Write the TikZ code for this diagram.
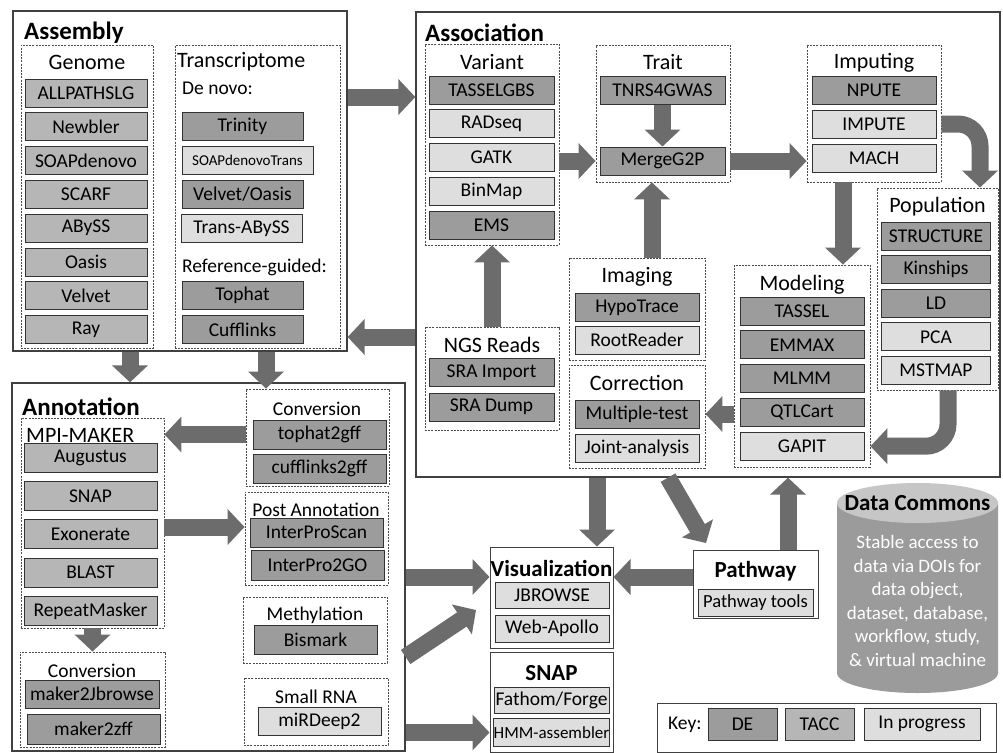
\documentclass[tikz,border=0pt]{standalone}
\usepackage{fontspec}
\setmainfont{Carlito}
\usetikzlibrary{arrows.meta}
\definecolor{deg}{RGB}{156,156,156}
\definecolor{taccg}{RGB}{182,182,182}
\definecolor{progg}{RGB}{222,222,222}
\definecolor{arrg}{RGB}{108,108,108}
\definecolor{cylg}{RGB}{155,155,155}
\definecolor{cyltop}{RGB}{198,198,198}

\begin{document}
\begin{tikzpicture}[x=1pt,y=-1pt,
  frm/.style={draw=black!75,line width=1.3pt,inner sep=0pt},
  sbox/.style={draw=black!75,line width=1pt,inner sep=0pt},
  grp/.style={draw=black!70,line width=0.9pt,dash pattern=on 2pt off 1.2pt,inner sep=0pt},
  ttl/.style={font=\bfseries\fontsize{25}{28}\selectfont,anchor=west,inner sep=0pt},
  sttl/.style={font=\bfseries\fontsize{23}{26}\selectfont,inner sep=0pt},
  hd/.style={font=\fontsize{22}{25}\selectfont,inner sep=0pt},
  shd/.style={font=\fontsize{19.5}{22}\selectfont,inner sep=0pt},
  tool/.style={draw=black!80,line width=1pt,inner sep=0pt,minimum height=28,font=\fontsize{19.5}{22}\selectfont},
  bigarr/.style={draw=arrg,line width=17pt,-{Triangle[length=17pt,width=35pt]}}]
  \useasboundingbox (0,0) rectangle (1003,752);
  \fill[white] (0,0) rectangle (1003,752);

  % Assembly
  \node[frm,minimum width=334,minimum height=340] (asm) at (180,181) {};
  \node[ttl] (asmt) at (24,33) {Assembly};
  \node[grp,minimum width=132,minimum height=303] (gen) at (87,196.5) {};
  \node[hd] (gent) at (87,62) {Genome};
  \foreach \t/\c [count=\i] in {ALLPATHSLG/taccg,Newbler/taccg,SOAPdenovo/taccg,SCARF/taccg,ABySS/taccg,Oasis/taccg,Velvet/taccg,Ray/taccg}
    \node[tool,fill=\c,minimum width=122] (g\i) at (86,93+33.8*\i-33.8) {\t};
  \node[grp,minimum width=165,minimum height=303] (trs) at (257.5,196.5) {};
  \node[hd,anchor=west] (trst) at (177,62) {Transcriptome};
  \node[shd,anchor=west] (dnv) at (182,88) {De novo:};
  \node[tool,fill=deg,minimum width=121] (trin) at (242.5,126.5) {Trinity};
  \node[tool,fill=progg,minimum width=131,font=\fontsize{15}{18}\selectfont] (sdt) at (247.5,160.5) {SOAPdenovoTrans};
  \node[tool,fill=deg,minimum width=121] (vlo) at (242.5,194.5) {Velvet/Oasis};
  \node[tool,fill=progg,minimum width=121] (tab) at (241.5,228.5) {Trans-ABySS};
  \node[shd,anchor=west] (rfg) at (182,267) {Reference-guided:};
  \node[tool,fill=deg,minimum width=121] (toph) at (242.5,295.5) {Tophat};
  \node[tool,fill=deg,minimum width=121] (cufl) at (242.5,329.5) {Cufflinks};

  % Association
  \node[frm,minimum width=584,minimum height=465] (asc) at (708,244.5) {};
  \node[ttl] (asct) at (425,33) {Association};
  \node[grp,minimum width=134,minimum height=201] (var) at (492,144.5) {};
  \node[hd] (vart) at (492,62) {Variant};
  \foreach \t/\c [count=\i] in {TASSELGBS/deg,RADseq/progg,GATK/progg,BinMap/progg,EMS/deg}
    \node[tool,fill=\c,minimum width=125] (v\i) at (491.5,90+33.8*\i-33.8) {\t};
  \node[grp,minimum width=134,minimum height=137] (trt) at (663,113.5) {};
  \node[hd] (trtt) at (663,62) {Trait};
  \node[tool,fill=deg,minimum width=125] (tnrs) at (662.5,90) {TNRS4GWAS};
  \node[tool,fill=deg,minimum width=125] (mrg) at (662.5,161) {MergeG2P};
  \node[grp,minimum width=134,minimum height=137] (imp) at (874,113.5) {};
  \node[hd] (impt) at (874,63) {Imputing};
  \foreach \t/\c [count=\i] in {NPUTE/deg,IMPUTE/progg,MACH/progg}
    \node[tool,fill=\c,minimum width=124] (m\i) at (874,90+34*\i-34) {\t};
  \node[grp,minimum width=121,minimum height=202] (pop) at (937.5,289) {};
  \node[hd] (popt) at (937.5,207) {Population};
  \foreach \t/\c [count=\i] in {STRUCTURE/deg,Kinships/deg,LD/deg,PCA/progg,MSTMAP/progg}
    \node[tool,fill=\c,minimum width=109] (p\i) at (936,236+33.6*\i-33.6) {\t};
  \node[grp,minimum width=136,minimum height=102] (img) at (637,309) {};
  \node[hd] (imgt) at (637,277) {Imaging};
  \node[tool,fill=deg,minimum width=124] (hypo) at (637,307.5) {HypoTrace};
  \node[tool,fill=progg,minimum width=124] (root) at (637,340) {RootReader};
  \node[grp,minimum width=136,minimum height=202] (mod) at (802,366) {};
  \node[hd] (modt) at (802,285) {Modeling};
  \foreach \t/\c [count=\i] in {TASSEL/deg,EMMAX/deg,MLMM/deg,QTLCart/deg,GAPIT/progg}
    \node[tool,fill=\c,minimum width=124] (mo\i) at (802,311+33.8*\i-33.8) {\t};
  \node[grp,minimum width=134,minimum height=103] (ngs) at (492,378.5) {};
  \node[hd] (ngst) at (492,345) {NGS Reads};
  \node[tool,fill=deg,minimum width=125] (srai) at (491.5,372.5) {SRA Import};
  \node[tool,fill=deg,minimum width=125] (srad) at (491.5,407) {SRA Dump};
  \node[grp,minimum width=136,minimum height=103] (cor) at (637,416.5) {};
  \node[hd] (cort) at (637,383) {Correction};
  \node[tool,fill=deg,minimum width=124] (mult) at (637,414) {Multiple-test};
  \node[tool,fill=progg,minimum width=124] (join) at (637,448) {Joint-analysis};

  % Annotation
  \node[frm,minimum width=393,minimum height=368] (ann) at (208.5,567) {};
  \node[ttl] (annt) at (22,407) {Annotation};
  \node[grp,minimum width=143,minimum height=210] (mpi) at (92.5,523) {};
  \node[hd,anchor=west] (mpit) at (26,435) {MPI-MAKER};
  \foreach \t [count=\i] in {Augustus,SNAP,Exonerate,BLAST,RepeatMasker}
    \node[tool,fill=taccg,minimum width=133,minimum height=29] (a\i) at (90.5,457.5+38.4*\i-38.4) {\t};
  \node[grp,minimum width=145,minimum height=95] (cv2) at (92.5,699.5) {};
  \node[shd] (cv2t) at (92,671) {Conversion};
  \node[tool,fill=deg,minimum width=134] (mkj) at (92,694) {maker2Jbrowse};
  \node[tool,fill=deg,minimum width=133,minimum height=30] (mkz) at (93.5,729) {maker2zff};
  \node[grp,minimum width=143,minimum height=97] (cv1) at (317.5,437.5) {};
  \node[shd] (cv1t) at (317,409) {Conversion};
  \node[tool,fill=deg,minimum width=133,minimum height=29] (th) at (319.5,434.5) {tophat2gff};
  \node[tool,fill=deg,minimum width=133,minimum height=29] (cg) at (319.5,468.5) {cufflinks2gff};
  \node[grp,minimum width=143,minimum height=93] (post) at (316.5,538.5) {};
  \node[shd] (postt) at (316,510) {Post Annotation};
  \node[tool,fill=deg,minimum width=133,minimum height=29] (ips) at (316.5,532.5) {InterProScan};
  \node[tool,fill=deg,minimum width=133,minimum height=30] (ipg) at (317.5,565) {InterPro2GO};
  \node[grp,minimum width=144,minimum height=66] (met) at (315,630) {};
  \node[shd] (mett) at (315,615) {Methylation};
  \node[tool,fill=deg,minimum width=123,minimum height=29] (bis) at (315.5,639.5) {Bismark};
  \node[grp,minimum width=144,minimum height=67] (srn) at (316,711.5) {};
  \node[shd] (srnt) at (316,697) {Small RNA};
  \node[tool,fill=progg,minimum width=123] (mir) at (319.5,721) {miRDeep2};

  % Visualization, SNAP, Pathway
  \node[sbox,minimum width=123,minimum height=101] (vis) at (551.5,597.5) {};
  \node[sttl] (vist) at (551.5,568) {Visualization};
  \node[tool,fill=progg,minimum width=114,minimum height=26] (jb) at (552,595) {JBROWSE};
  \node[tool,fill=progg,minimum width=114,minimum height=27] (wa) at (552,628.5) {Web-Apollo};
  \node[sbox,minimum width=123,minimum height=100] (snp) at (551.5,702) {};
  \node[sttl] (snpt) at (551.5,673) {SNAP};
  \node[tool,fill=progg,minimum width=115,minimum height=26] (ff) at (551.5,700) {Fathom/Forge};
  \node[tool,fill=progg,minimum width=115,font=\fontsize{17}{20}\selectfont] (hmm) at (551.5,732.5) {HMM-assembler};
  \node[sbox,minimum width=125,minimum height=68] (pth) at (755.5,584) {};
  \node[sttl] (ptht) at (755.5,571) {Pathway};
  \node[tool,fill=progg,minimum width=115,minimum height=27,font=\fontsize{18.5}{21}\selectfont] (ptt) at (755.5,603) {Pathway tools};

  % Data Commons
  \fill[cylg] (837,503) -- (837,673) arc[start angle=180,end angle=360,x radius=80.5pt,y radius=20pt] -- (998,503) -- cycle;
  \fill[cyltop] (917.5,503) ellipse[x radius=80.5pt,y radius=20pt];
  \node[sttl] (dct) at (917.5,503) {Data Commons};
  \node[font=\fontsize{19}{23.5}\selectfont,text=white,align=center,inner sep=0pt] (dcb) at (917.5,601)
    {Stable access to\\data via DOIs for\\data object,\\dataset, database,\\workflow, study,\\\& virtual machine};

  % Key
  \node[sbox,minimum width=339,minimum height=49] (key) at (826.5,727.5) {};
  \node[shd,anchor=west] (keyt) at (668,725) {Key:};
  \node[tool,fill=deg,minimum width=69,minimum height=32] (kde) at (742.5,724) {DE};
  \node[tool,fill=taccg,minimum width=69,minimum height=32] (ktc) at (819.5,724) {TACC};
  \node[tool,fill=progg,minimum width=116,minimum height=32] (kip) at (922,724) {In progress};

  % arrows
  \coordinate (ra) at (0,97);
  \coordinate (rb) at (0,337);
  \coordinate (ca) at (130,0);
  \coordinate (cb) at (266,0);
  \coordinate (cc) at (980,0);
  \coordinate (cd) at (843,0);
  \coordinate (ce) at (652,0);
  \coordinate (cf) at (948,0);
  \coordinate (cg) at (597,0);
  \coordinate (ch) at (668,0);
  \coordinate (ci) at (788,0);
  \coordinate (tp) at (706,543);
  \coordinate (rv) at (0,577);
  \coordinate (dd) at (0,657);
  \coordinate (tq) at (476,610);
  \coordinate (rp) at (0,527);
  \draw[bigarr] (asm.east |- ra) -- (asc.west |- ra);
  \draw[bigarr] (asc.west |- rb) -- (asm.east |- rb);
  \draw[bigarr] (asm.south -| ca) -- (ann.north -| ca);
  \draw[bigarr] (asm.south -| cb) -- (cv1.north -| cb);
  \draw[bigarr] (var.east |- mrg) -- (trt.west |- mrg);
  \draw[bigarr] (tnrs.south) -- (mrg.north);
  \draw[bigarr] (trt.east |- mrg) -- (imp.west |- mrg);
  \draw[bigarr,rounded corners=22pt] (imp.east |- m2) -- (cc |- m2) -- (cc |- pop.north);
  \draw[bigarr] (imp.south -| cd) -- (mod.north -| cd);
  \draw[bigarr] (ngs.north) -- (var.south);
  \draw[bigarr] (img.north -| ce) -- (trt.south -| ce);
  \draw[bigarr,rounded corners=22pt] (pop.south -| cf) |- (mod.east |- mo5);
  \draw[bigarr] (mod.west |- mult) -- (cor.east |- mult);
  \draw[bigarr] (asc.south -| cg) -- (vis.north -| cg);
  \draw[bigarr] (asc.south -| ch) -- (tp);
  \draw[bigarr] (pth.north -| ci) -- (asc.south -| ci);
  \draw[bigarr] (pth.west |- rv) -- (vis.east |- rv);
  \draw[bigarr] (ann.east |- rv) -- (vis.west |- rv);
  \draw[bigarr] (ann.east |- dd) -- (tq);
  \draw[bigarr] (ann.east |- hmm) -- (snp.west |- hmm);
  \draw[bigarr] (cv1.west |- th) -- (mpi.east |- th);
  \draw[bigarr] (mpi.east |- rp) -- (post.west |- rp);
  \draw[bigarr] (mpi.south) -- (cv2.north);
\end{tikzpicture}
\end{document}
